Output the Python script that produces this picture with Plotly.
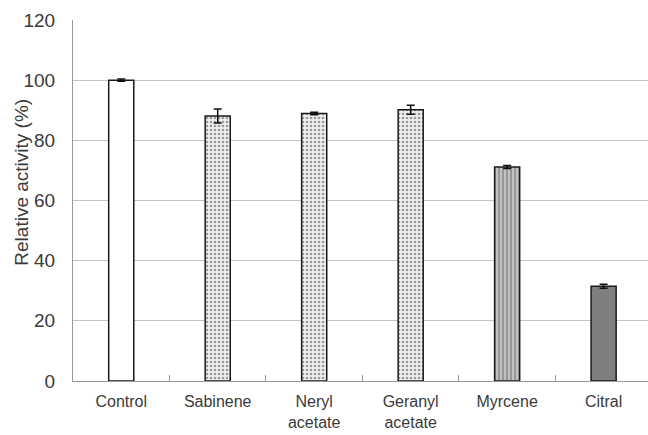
import plotly.graph_objects as go

# Relative enzyme activity after treatment with each compound
compounds = ["Control", "Sabinene", "Neryl<br>acetate", "Geranyl<br>acetate", "Myrcene", "Citral"]
activity = [100.0, 88.1, 88.9, 90.2, 71.1, 31.5]
activity_err = [0.4, 2.3, 0.4, 1.5, 0.5, 0.7]

# Fill style per bar
fill_colors = ["#ffffff", "#efefef", "#efefef", "#efefef", "#c2c2c2", "#7f7f7f"]
pattern_shapes = ["", ".", ".", ".", "|", ""]
pattern_fg = ["#ffffff", "#d6d6d6", "#d6d6d6", "#d6d6d6", "#a3a3a3", "#7f7f7f"]

y_ticks = [0, 20, 40, 60, 80, 100, 120]
y_title = "Relative activity (%)"

fig = go.Figure()
fig.add_trace(go.Bar(
    x=compounds,
    y=activity,
    width=0.26,
    marker=dict(
        color=fill_colors,
        line=dict(color="#1a1a1a", width=1.5),
        pattern=dict(shape=pattern_shapes, fgcolor=pattern_fg,
                     size=4, solidity=0.35, fillmode="overlay"),
    ),
    error_y=dict(type="data", array=activity_err, visible=True,
                 color="#111111", thickness=1.5, width=4),
    showlegend=False,
))

font_family = "Liberation Sans, Arial, sans-serif"

fig.update_layout(
    width=648, height=435,
    margin=dict(l=73, r=0, t=20, b=54),
    paper_bgcolor="white", plot_bgcolor="white",
    font=dict(family=font_family, size=16, color="#3a3a3a"),
)
fig.update_xaxes(
    type="category",
    range=[-0.5, 5.46],
    automargin=False,
    showline=True, linecolor="#999999", linewidth=1,
    ticks="inside", tickson="boundaries", ticklen=6, tickcolor="#999999",
    tickfont=dict(size=16, color="#3a3a3a"),
    ticklabelstandoff=6,
    showgrid=False,
)
fig.update_yaxes(
    range=[0, 120],
    tickvals=y_ticks,
    automargin=False,
    showline=True, linecolor="#999999", linewidth=1,
    ticks="",
    ticklabelstandoff=13,
    showgrid=True, gridcolor="#c4c4c4", gridwidth=1,
    tickfont=dict(size=19, color="#3a3a3a"),
    zeroline=False,
)

# Vertical axis title placed beside the tick labels
fig.add_annotation(
    text=y_title, textangle=-90,
    xref="paper", yref="paper", x=-0.09, y=0.55,
    xanchor="center", yanchor="middle", showarrow=False,
    font=dict(size=19, color="#3a3a3a"),
)

fig.write_html("out.html")
